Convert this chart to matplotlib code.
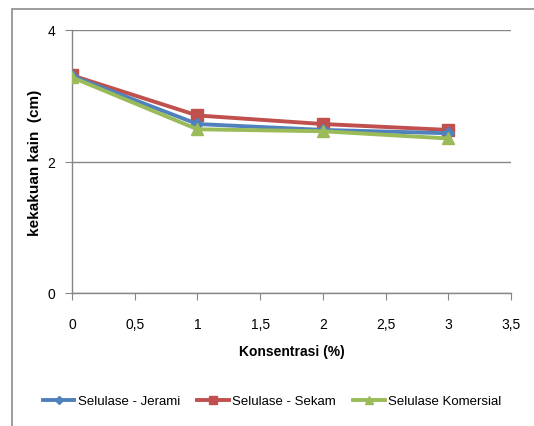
import matplotlib
matplotlib.use("Agg")
import matplotlib.pyplot as plt
from matplotlib.patches import Rectangle

konsentrasi = [0, 1, 2, 3]
jerami = [3.30, 2.57, 2.48, 2.43]
sekam = [3.31, 2.70, 2.57, 2.48]
komersial = [3.28, 2.49, 2.46, 2.35]
xticks = [0, 0.5, 1, 1.5, 2, 2.5, 3, 3.5]
xticklabels = ["0", "0,5", "1", "1,5", "2", "2,5", "3", "3,5"]
yticks = [0, 2, 4]

plt.rcParams['font.family'] = ['Liberation Sans', 'DejaVu Sans']

fig = plt.figure(figsize=(5.34, 4.27), dpi=100)
fig.patches.append(Rectangle((12/534, -0.01), 1.0, (427-10)/427 + 0.01,
                             transform=fig.transFigure, fill=False,
                             edgecolor='#8c8c8c', linewidth=1.2))
ax = fig.add_axes([72/534, 1-294/427, (511-72)/534, (294-31)/427])

ax.plot(konsentrasi, jerami, color='#4F81BD', lw=2.8, marker='D', ms=6,
        label='Selulase - Jerami', zorder=3)
ax.plot(konsentrasi, sekam, color='#C0504D', lw=2.8, marker='s', ms=8,
        label='Selulase - Sekam', zorder=2)
ax.plot(konsentrasi, komersial, color='#9BBB59', lw=2.8, marker='^', ms=8,
        label='Selulase Komersial', zorder=4)

ax.set_xlim(0, 3.5)
ax.set_ylim(0, 4)
ax.set_xticks(xticks)
ax.set_xticklabels(xticklabels)
ax.set_yticks(yticks)
ax.grid(axis='y', color='#868686', lw=1)
ax.set_axisbelow(True)
for s in ['top', 'right']:
    ax.spines[s].set_visible(False)
for s in ['left', 'bottom']:
    ax.spines[s].set_color('#868686')
    ax.spines[s].set_linewidth(1)
ax.tick_params(axis='both', direction='out', length=5, color='#868686',
               labelsize=10)
ax.tick_params(axis='x', pad=12)
ax.tick_params(axis='y', pad=7)
ax.set_xlabel('Konsentrasi (%)', fontsize=10, fontweight='bold', labelpad=10)
ax.set_ylabel('kekakuan kain  (cm)', fontsize=11, fontweight='bold', labelpad=4)

fig.legend(loc='center', bbox_to_anchor=(272/534, 1-402/427), ncol=3,
           frameon=False, fontsize=9.5, handlelength=2.4, handletextpad=0.25,
           columnspacing=1.3, markerscale=0.7)

fig.savefig('out.png', dpi=100)
